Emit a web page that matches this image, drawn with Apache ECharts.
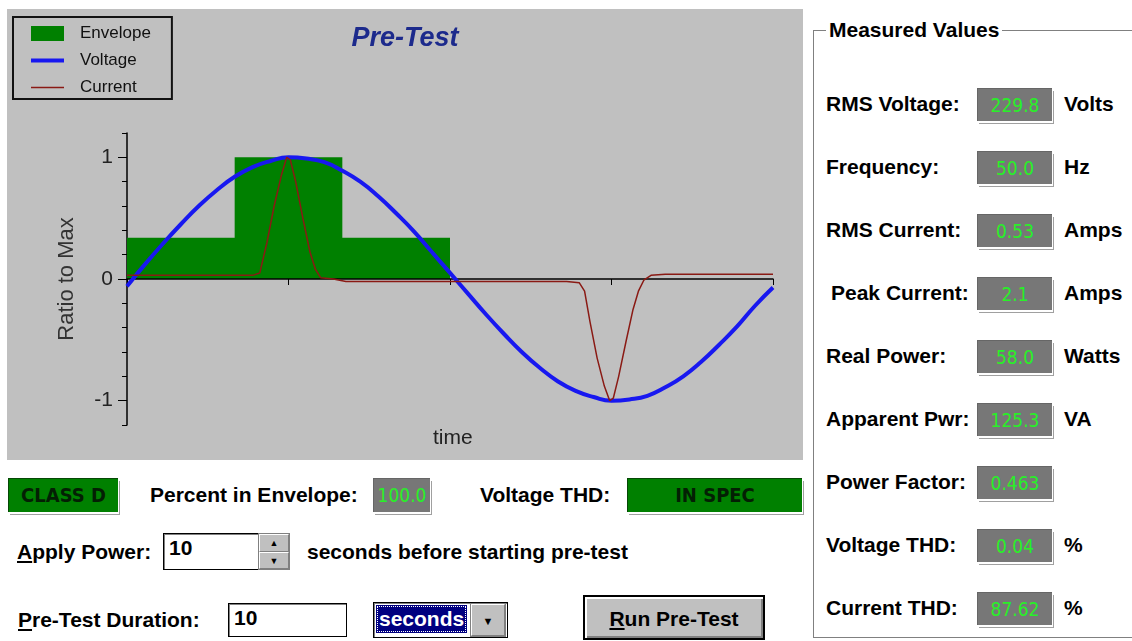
<!DOCTYPE html>
<html><head><meta charset="utf-8">
<script src="https://cdn.jsdelivr.net/npm/echarts@6/dist/echarts.min.js"></script>
<style>
html,body{margin:0;padding:0;background:#fff;}
#page{position:relative;width:1132px;height:641px;overflow:hidden;font-family:"Liberation Sans",Arial,sans-serif;}
#chart{position:absolute;left:7px;top:9px;width:796px;height:451px;}
.lbl{position:absolute;font-weight:bold;font-size:21px;color:#000;line-height:24px;white-space:nowrap;}
.val{position:absolute;background:#777;color:#28f028;font-family:"Liberation Sans Narrow","DejaVu Sans Condensed",Arial,sans-serif;font-size:19px;text-align:center;box-sizing:border-box;border-top:1px solid #666;border-left:1px solid #666;box-shadow:1px 2px 0 #fff,2px 3px 0 #a0a0a0;}
.grn{position:absolute;background:#008000;color:#041f04;font-weight:bold;font-family:"Liberation Sans Narrow","DejaVu Sans Condensed",Arial,sans-serif;font-size:20px;text-align:center;box-sizing:border-box;border-top:1px solid #064806;border-left:1px solid #064806;box-shadow:1px 2px 0 #fff,2px 3px 0 #a0a0a0;}
#group{position:absolute;left:813px;top:30px;width:340px;height:608px;border:1px solid #808080;box-sizing:border-box;}
#group .title{position:absolute;left:12px;top:-13px;background:#fff;padding:0 3px;font-weight:bold;font-size:21px;line-height:24px;}
.inp{position:absolute;background:#fff;border:1px solid #000;box-shadow:inset 1px 1px 0 #808080;box-sizing:border-box;font-weight:bold;font-size:21px;line-height:24px;padding:2px 0 0 5px;}
.spin{position:absolute;box-sizing:border-box;background:#c0c0c0;border:1px solid #808080;}
.spin div{height:50%;box-sizing:border-box;border-top:1px solid #fff;border-left:1px solid #fff;border-bottom:1px solid #808080;border-right:1px solid #808080;text-align:center;font-size:9px;line-height:16px;color:#000;}
u{text-decoration:underline;}
</style></head>
<body><div id="page">
<div id="chart"></div>
<div id="group"><div class="title">Measured Values</div></div>
</div>
<script>
// ---------- data ----------
const envelopeX = [0, 60, 120, 180];
const envelopeY = [0.34, 1.0, 0.34, 0.34];

const voltageX = [0,10,20,30,40,50,60,70,80,90,100,110,120,130,140,150,160,170,180,
                  190,200,210,220,230,240,250,260,270,280,290,300,310,320,330,340,350,360];
const voltageY = [-0.06,0.12,0.29,0.45,0.60,0.73,0.84,0.92,0.97,1.00,0.99,0.96,0.89,0.80,0.68,0.54,0.39,0.22,0.05,
                  -0.12,-0.29,-0.45,-0.60,-0.73,-0.84,-0.92,-0.97,-1.00,-0.99,-0.96,-0.89,-0.80,-0.68,-0.54,-0.39,-0.22,-0.07];

const currentX = [0,40,70,74,78,82,86,89,91,94,98,102,105,108,115,122,150,200,245,252,255,258,262,266,269,271,274,278,282,285,288,292,300,330,360];
const currentY = [0.03,0.03,0.03,0.05,0.30,0.60,0.85,1.00,0.98,0.80,0.50,0.22,0.08,0.01,0.00,-0.02,-0.02,-0.02,-0.02,-0.03,-0.10,-0.35,-0.65,-0.88,-1.00,-0.98,-0.80,-0.52,-0.25,-0.10,-0.01,0.03,0.04,0.04,0.04];

const yTickLabels = [-1, 0, 1];
const seriesNames = ['Envelope', 'Voltage', 'Current'];

const mvLabels = ['RMS Voltage:', 'Frequency:', 'RMS Current:', ' Peak Current:', 'Real Power:', 'Apparent Pwr:', 'Power Factor:', 'Voltage THD:', 'Current THD:'];
const mvValues = ['229.8', '50.0', '0.53', '2.1', '58.0', '125.3', '0.463', '0.04', '87.62'];
const mvUnits  = ['Volts', 'Hz', 'Amps', 'Amps', 'Watts', 'VA', '', '%', '%'];

// ---------- UI ----------
const page = document.getElementById('page');
function add(cls, html, style) {
  const d = document.createElement('div');
  d.className = cls; d.innerHTML = html; d.setAttribute('style', style);
  page.appendChild(d); return d;
}
mvLabels.forEach((t, i) => {
  const top = 88 + i * 63;
  add('lbl', t.replace(/^ /, ''), 'left:' + (t.startsWith(' ') ? 831 : 826) + 'px;top:' + (top + 4) + 'px;');
  add('val', mvValues[i], 'left:977px;top:' + top + 'px;width:75px;height:33px;line-height:32px;');
  if (mvUnits[i]) add('lbl', mvUnits[i], 'left:1064px;top:' + (top + 4) + 'px;');
});
add('grn', 'CLASS D', 'left:8px;top:478px;width:110px;height:34px;line-height:33px;');
add('lbl', 'Percent in Envelope:', 'left:150px;top:483px;');
add('val', '100.0', 'left:373px;top:478px;width:57px;height:34px;line-height:33px;');
add('lbl', 'Voltage THD:', 'left:480px;top:483px;');
add('grn', 'IN SPEC', 'left:627px;top:478px;width:175px;height:34px;line-height:33px;');
add('lbl', '<u>A</u>pply Power:', 'left:17px;top:540px;');
add('inp', '10', 'left:163px;top:533px;width:96px;height:37px;');
add('spin', '<div>&#9650;</div><div>&#9660;</div>', 'left:258px;top:533px;width:32px;height:37px;');
add('lbl', 'seconds before starting pre-test', 'left:307px;top:540px;');
add('lbl', '<u>P</u>re-Test Duration:', 'left:18px;top:608px;');
add('inp', '10', 'left:228px;top:603px;width:119px;height:34px;');
add('inp', '<span style="display:inline-block;background:#000080;color:#fff;outline:1px dotted #fff;outline-offset:-2px;padding:0 3px;line-height:28px;margin-top:1px;">seconds</span>',
    'left:373px;top:602px;width:135px;height:36px;padding:1px 0 0 2px;');
add('spin', '<div style="height:100%;line-height:32px;font-size:11px;">&#9660;</div>', 'left:470px;top:603px;width:36px;height:34px;');
add('lbl', '<u>R</u>un Pre-Test', 'left:583px;top:595px;width:182px;height:45px;line-height:43px;text-align:center;background:#c0c0c0;border:2px solid #000;box-sizing:border-box;box-shadow:inset 2px 2px 0 #fff,inset -2px -2px 0 #808080;');

// ---------- chart ----------
const zip = (xs, ys) => xs.map((x, i) => [x, ys[i]]);
const FONT = '"Liberation Sans", Arial, sans-serif';
const chart = echarts.init(document.getElementById('chart'));
chart.setOption({
  backgroundColor: '#c0c0c0',
  animation: false,
  title: {
    text: 'Pre-Test', left: 'center', top: 11,
    textStyle: { fontSize: 27, fontStyle: 'italic', fontWeight: 'bold', color: '#1c2a8c', fontFamily: FONT }
  },
  legend: {
    orient: 'vertical', left: 6, top: 8,
    padding: [8, 21, 3, 16],
    borderColor: '#111', borderWidth: 2,
    itemWidth: 33, itemHeight: 15, itemGap: 10,
    textStyle: { fontSize: 17, color: '#111', fontFamily: FONT, padding: [0, 0, 0, 11] },
    data: [
      { name: seriesNames[0], icon: 'rect' },
      { name: seriesNames[1], itemStyle: { opacity: 0 }, lineStyle: { width: 4 } },
      { name: seriesNames[2], itemStyle: { opacity: 0 }, lineStyle: { width: 1.5 } }
    ]
  },
  grid: { left: 120, right: 30, top: 124, bottom: 35 },
  xAxis: {
    type: 'value', min: 0, max: 360, interval: 90, z: 3,
    axisLine: { onZero: true, lineStyle: { color: '#000', width: 1.5 } },
    axisTick: { show: true, length: 6, lineStyle: { color: '#000' } },
    axisLabel: { show: false }, splitLine: { show: false }
  },
  yAxis: [{
    type: 'value', min: -1.2, max: 1.2, interval: 0.2, position: 'left',
    axisLine: { show: true, onZero: false, lineStyle: { color: '#000', width: 1.5 } },
    axisTick: { show: true, length: 5, lineStyle: { color: '#000' } },
    axisLabel: { show: false }, splitLine: { show: false }
  }, {
    type: 'value', min: -1.2, max: 1.2, interval: 0.2, position: 'left', offset: 0,
    axisLine: { show: false, onZero: false },
    axisTick: { show: true, length: 9, customValues: yTickLabels, lineStyle: { color: '#000' } },
    axisLabel: { show: true, customValues: yTickLabels, margin: 14, fontSize: 21, color: '#222', fontFamily: FONT },
    splitLine: { show: false },
    name: 'Ratio to Max', nameLocation: 'middle', nameGap: 49, nameRotate: 90,
    nameTextStyle: { fontSize: 22, color: '#333', fontFamily: FONT }
  }],
  graphic: [{
    type: 'text', left: 426, top: 419,
    style: { text: 'time', font: '21px ' + FONT, fill: '#222' }
  }],
  series: [{
    name: seriesNames[0], type: 'line', step: 'end', data: zip(envelopeX, envelopeY),
    symbol: 'none', color: '#008000', z: 1,
    lineStyle: { width: 0 }, areaStyle: { color: '#008000', opacity: 1 }
  }, {
    name: seriesNames[1], type: 'line', smooth: true, data: zip(voltageX, voltageY),
    symbol: 'none', color: '#1818f0', z: 5, lineStyle: { width: 4 }
  }, {
    name: seriesNames[2], type: 'line', data: zip(currentX, currentY),
    symbol: 'none', color: '#8a1a14', z: 6, lineStyle: { width: 1.5 }
  }]
});
</script>
</body></html>
